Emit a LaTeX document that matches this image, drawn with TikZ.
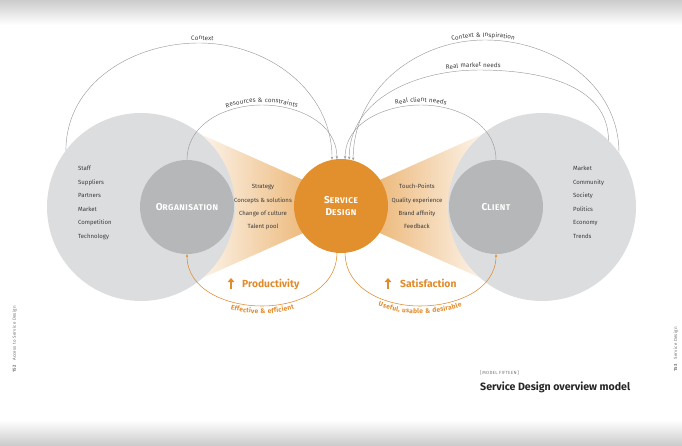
\documentclass[tikz,border=0pt]{standalone}
\usepackage{fontspec}
\setmainfont{Fira Sans}
\newfontfamily\spacedfont[LetterSpace=6]{Fira Sans}
\usetikzlibrary{arrows.meta,decorations.text}

\definecolor{discgrey}{HTML}{DCDDDF}
\definecolor{coregrey}{HTML}{B6B7B9}
\definecolor{sdorange}{HTML}{E2902E}
\definecolor{inkgrey}{HTML}{3C3C3C}
\definecolor{linegrey}{HTML}{9C9C9C}
\definecolor{gainorange}{HTML}{E08B2C}

\newcommand{\linkfont}{\spacedfont\fontsize{6.3}{7}\selectfont\color{inkgrey}}
\newcommand{\gainfont}{\spacedfont\fontsize{6.6}{7}\selectfont\bfseries\color{gainorange}}
\newcommand{\sctext}[2]{{\fontsize{10}{12}\selectfont #1}{\fontsize{8.3}{12}\selectfont #2}}

\tikzset{
  bigdisc/.style={circle, fill=discgrey, minimum size=188pt, inner sep=0pt, outer sep=0pt},
  coredisc/.style={circle, fill=coregrey, minimum size=94pt, inner sep=0pt, outer sep=0pt,
    text=white, font=\spacedfont\bfseries, align=center},
  sddisc/.style={coredisc, fill=sdorange},
  itemtext/.style={inner sep=0pt, text=inkgrey, font=\fontsize{6}{7}\selectfont},
  gaintext/.style={inner sep=0pt, text=gainorange, font=\fontsize{10.3}{12}\selectfont\bfseries},
  gainarrow/.style={draw=gainorange, line width=1.5pt, -{Triangle[length=4pt,width=6.5pt]}},
  feedline/.style={draw=linegrey, line width=0.45pt},
  returnline/.style={draw=gainorange, line width=0.55pt},
  linklabel/.style={postaction={decorate, decoration={text along path, text align=center,
    raise=3pt, text={|\linkfont|#1}}}},
  returnlabel/.style={postaction={decorate, decoration={text along path, text align=center,
    raise=-7.5pt, text={|\gainfont|#1}}}},
  pagetext/.style={inner sep=0pt, text=black!55, font=\spacedfont\fontsize{4.5}{5}\selectfont},
  titletext/.style={inner sep=0pt, text=black!85, font=\fontsize{10.6}{12}\selectfont\bfseries},
}

\begin{document}
\begin{tikzpicture}[x=1pt, y=1pt, >={Stealth[length=3.2pt,width=2.4pt]}]
  \useasboundingbox (0,0) rectangle (682,445);

  % page edges
  \shade[top color=black!20, bottom color=white] (0,445) rectangle (682,420);
  \shade[top color=white, bottom color=black!20] (0,25) rectangle (682,0);

  % funnels
  \shade[left color=white, right color=sdorange!65] (180,320) -- (310,262) -- (310,215) -- (180,157) -- cycle;
  \shade[left color=sdorange!65, right color=white] (373,262) -- (503,320) -- (503,157) -- (373,215) -- cycle;

  % discs
  \node[bigdisc] (orgbig) at (141,238) {};
  \node[bigdisc] (clientbig) at (542,238) {};
  \node[coredisc] (org) at (187,238) {\sctext{O}{RGANISATION}};
  \node[coredisc] (client) at (496,238) {\sctext{C}{LIENT}};
  \node[sddisc] (sd) at (341,239) {\sctext{S}{ERVICE}\\\sctext{D}{ESIGN}};

  % tops and bottoms of the arcs
  \coordinate (contexttop) at (199,402);
  \coordinate (resourcetop) at (262,340);
  \coordinate (clienttop) at (421,340);
  \coordinate (markettop) at (479,375);
  \coordinate (inspiretop) at (485,405);
  \coordinate (effectbottom) at (262,139);
  \coordinate (usefulbottom) at (420,139);

  % inputs to service design
  \draw[feedline, ->, linklabel=Context] (orgbig.143) to[out=90, in=180] (contexttop) to[out=0, in=90] (sd.101);
  \draw[feedline, ->, linklabel={Resources {\&} constraints}] (org.90) to[out=90, in=180] (resourcetop) to[out=0, in=90] (sd.95);
  \draw[feedline, <-, linklabel={Real client needs}] (sd.85) to[out=90, in=180] (clienttop) to[out=0, in=90] (client.90);
  \draw[feedline, <-, linklabel={Real market needs}] (sd.80) to[out=90, in=180] (markettop) to[out=0, in=90] (clientbig.45);
  \draw[feedline, <-, linklabel={Context {\&} Inspiration}] (sd.75) to[out=90, in=180] (inspiretop) to[out=0, in=90] (clientbig.35);

  % outputs
  \draw[returnline, <-, returnlabel={Effective {\&} efficient}] (org.270) to[out=-90, in=180] (effectbottom) to[out=0, in=-90] (sd.265);
  \draw[returnline, ->, returnlabel={Useful, usable {\&} desirable}] (sd.275) to[out=-90, in=180] (usefulbottom) to[out=0, in=-90] (client.270);

  % lists
  \foreach \t [count=\i] in {Staff, Suppliers, Partners, Market, Competition, Technology}
    \node[itemtext, anchor=base west] (orgitem\i) at (78, 287.4-13.4*\i) {\t};
  \foreach \t [count=\i] in {Market, Community, Society, Politics, Economy, Trends}
    \node[itemtext, anchor=base west] (clientitem\i) at (573, 287.4-13.4*\i) {\t};
  \foreach \t [count=\i] in {Strategy, Concepts {\&} solutions, Change of culture, Talent pool}
    \node[itemtext, anchor=base] (orgvalue\i) at (263, 269.3-13.3*\i) {\t};
  \foreach \t [count=\i] in {Touch-Points, Quality experience, Brand affinity, Feedback}
    \node[itemtext, anchor=base] (clientvalue\i) at (417, 269.3-13.3*\i) {\t};

  % gains
  \node[gaintext, anchor=base west] (prod) at (242,158) {Productivity};
  \draw[gainarrow] ([xshift=-11pt, yshift=-2pt]prod.base west) -- ++(0,11);
  \node[gaintext, anchor=base west] (satis) at (400,158) {Satisfaction};
  \draw[gainarrow] ([xshift=-12pt, yshift=-2pt]satis.base west) -- ++(0,11);

  % page furniture
  \node[pagetext, anchor=base west] (modelno) at (480,71) {[\,MODEL FIFTEEN\,]};
  \node[titletext, anchor=base west] (title) at (480,55) {Service Design overview model};
  \node[pagetext, rotate=90, anchor=base west] (pageleft) at (16,72) {\textbf{152}\quad Access to Service Design};
  \node[pagetext, rotate=90, anchor=base west] (pageright) at (677,73) {\textbf{153}\quad Service Design};
\end{tikzpicture}
\end{document}
